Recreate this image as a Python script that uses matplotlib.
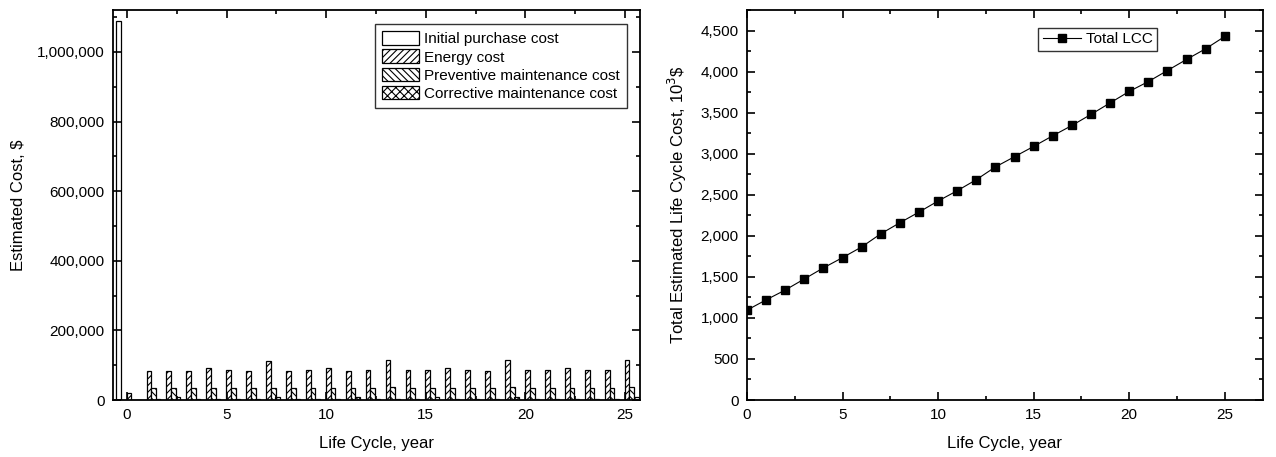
import numpy as np
import matplotlib.pyplot as plt
from matplotlib.ticker import MultipleLocator, FuncFormatter

plt.rcParams['font.family'] = ['Liberation Sans', 'DejaVu Sans']
plt.rcParams['hatch.linewidth'] = 0.8

# annual costs, $
years = list(range(0, 26))
initial = [1090000] + [0] * 25
energy = [20000, 83000, 83000, 83000, 91000, 86000, 84000, 112000, 84000, 86000,
          91000, 84000, 86000, 114000, 86000, 86000, 92000, 87000, 84000, 114000,
          86000, 87000, 92000, 86000, 86000, 114000]
preventive = [0, 35000, 35000, 34000, 35000, 34000, 35000, 35000, 34000, 35000,
              35000, 34000, 35000, 37000, 35000, 34000, 35000, 35000, 34000, 36000,
              35000, 34000, 35000, 35000, 34000, 37000]
corrective = [0, 3000, 8000, 3000, 4000, 3000, 4000, 8000, 3000, 4000,
              3000, 8000, 4000, 3000, 4000, 8000, 3000, 4000, 3000, 8000,
              4000, 3000, 4000, 3000, 3000, 9000]

# cumulative LCC, 10^3 $
lcc_years = list(range(0, 26))
lcc_total = [1095, 1220, 1340, 1475, 1610, 1735, 1865, 2025, 2160, 2290,
             2425, 2550, 2685, 2840, 2965, 3090, 3220, 3345, 3480, 3620,
             3760, 3880, 4015, 4150, 4280, 4430]

fig = plt.figure(figsize=(12.76, 4.57), dpi=100)
ax1 = fig.add_axes([0.0886, 0.1247, 0.413, 0.853])
ax2 = fig.add_axes([0.5854, 0.1247, 0.4044, 0.853])

x = np.array(years)
w = 0.24
ax1.bar(x - 0.42, initial, w, facecolor='white', edgecolor='black', lw=0.9,
        label='Initial purchase cost')
ax1.bar(x + 0.1, energy, w, facecolor='white', edgecolor='black', lw=0.9,
        hatch='/////', label='Energy cost')
ax1.bar(x + 0.34, preventive, w, facecolor='white', edgecolor='black', lw=0.9,
        hatch='\\\\\\\\\\', label='Preventive maintenance cost')
ax1.bar(x + 0.56, corrective, w, facecolor='white', edgecolor='black', lw=0.9,
        hatch='xxxx', label='Corrective maintenance cost')

ax1.set_xlim(-0.7, 25.75)
ax1.set_ylim(0, 1120000)
ax1.xaxis.set_major_locator(MultipleLocator(5))
ax1.xaxis.set_minor_locator(MultipleLocator(2.5))
ax1.yaxis.set_major_locator(MultipleLocator(200000))
ax1.yaxis.set_minor_locator(MultipleLocator(100000))
ax1.yaxis.set_major_formatter(FuncFormatter(lambda v, p: f'{int(v):,}'))
ax1.set_xlabel('Life Cycle, year', fontsize=12, labelpad=10)
ax1.set_ylabel('Estimated Cost, $', fontsize=12, labelpad=8)
ax1.legend(loc='upper right', bbox_to_anchor=(0.99, 0.985), fontsize=11,
           frameon=True, fancybox=False, edgecolor='black', handlelength=2.4,
           handleheight=1.0, handletextpad=0.3, labelspacing=0.2, borderpad=0.5)

ax2.plot(lcc_years, lcc_total, color='black', lw=0.8, marker='s', markersize=5.5,
         label='Total LCC')
ax2.set_xlim(0, 27)
ax2.set_ylim(0, 4750)
ax2.xaxis.set_major_locator(MultipleLocator(5))
ax2.xaxis.set_minor_locator(MultipleLocator(2.5))
ax2.yaxis.set_major_locator(MultipleLocator(500))
ax2.yaxis.set_minor_locator(MultipleLocator(250))
ax2.yaxis.set_major_formatter(FuncFormatter(lambda v, p: f'{int(v):,}'))
ax2.set_xlabel('Life Cycle, year', fontsize=12, labelpad=10)
ax2.set_ylabel('Total Estimated Life Cycle Cost, 10$^3$\\$', fontsize=12, labelpad=8)
ax2.legend(loc='upper left', bbox_to_anchor=(0.55, 0.975), fontsize=11,
           frameon=True, fancybox=False, edgecolor='black', handlelength=2.5,
           handletextpad=0.3, borderpad=0.3)

for ax in (ax1, ax2):
    for s in ax.spines.values():
        s.set_linewidth(1.3)
    ax.tick_params(which='both', direction='in', top=True, right=True,
                   labelsize=11, width=1.2)
    ax.tick_params(which='major', length=6, pad=6)
    ax.tick_params(which='minor', length=3)

fig.savefig('out.png', dpi=100)
